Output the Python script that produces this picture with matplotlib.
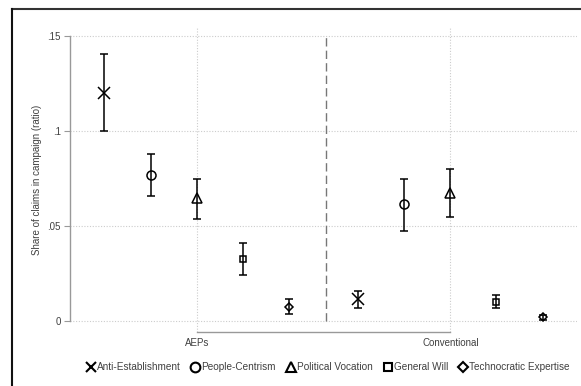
import matplotlib
matplotlib.use("Agg")
import matplotlib.pyplot as plt
from matplotlib.lines import Line2D
import numpy as np

plt.rcParams['font.family'] = ['Liberation Sans', 'DejaVu Sans']

groups = ["AEPs", "Conventional"]
series = ["Anti-Establishment", "People-Centrism", "Political Vocation", "General Will", "Technocratic Expertise"]
markers = ["x", "o", "^", "s", "D"]
msizes = [8.5, 6.5, 7, 5, 4]
leg_sizes = [7, 7, 7, 6, 5]

# estimates per series: [AEPs, Conventional]
est = {
    "Anti-Establishment":     [0.1198, 0.0114],
    "People-Centrism":        [0.0765, 0.0614],
    "Political Vocation":     [0.0646, 0.0675],
    "General Will":           [0.0326, 0.0102],
    "Technocratic Expertise": [0.0075, 0.0019],
}
lo = {
    "Anti-Establishment":     [0.0996, 0.0070],
    "People-Centrism":        [0.0658, 0.0475],
    "Political Vocation":     [0.0535, 0.0549],
    "General Will":           [0.0239, 0.0067],
    "Technocratic Expertise": [0.0037, 0.0006],
}
hi = {
    "Anti-Establishment":     [0.1404, 0.0160],
    "People-Centrism":        [0.0877, 0.0747],
    "Political Vocation":     [0.0747, 0.0798],
    "General Will":           [0.0412, 0.0137],
    "Technocratic Expertise": [0.0117, 0.0031],
}
yticks = [0, 0.05, 0.10, 0.15]
yticklabels = ["0", ".05", ".1", ".15"]

W, H = 581, 386
fig = plt.figure(figsize=(W / 100, H / 100), dpi=100)
ax = fig.add_axes([70 / W, 1 - 332 / H, (577 - 70) / W, (332 - 27) / H])

gpos = np.array([1.0, 2.0])
offsets = np.array([-2, -1, 0, 1, 2]) * 0.182
txtcol = "#404040"

for i, s in enumerate(series):
    x = gpos + offsets[i]
    y = np.array(est[s])
    yerr = np.vstack([y - np.array(lo[s]), np.array(hi[s]) - y])
    ax.errorbar(x, y, yerr=yerr, fmt=markers[i], ms=msizes[i], mfc="none",
                mec="black", mew=1.1, color="black", ecolor="black",
                elinewidth=1.1, capsize=2.6, capthick=1.1, clip_on=False, zorder=3)

ax.set_xlim(0.5, 2.5)
ax.set_ylim(-0.0058, 0.1545)
ax.vlines(1.51, 0, 0.15, color="#777777", lw=1.0, ls=(0, (6, 3)), zorder=1)

ax.set_yticks(yticks)
ax.set_yticklabels(yticklabels)
ax.set_xticks(gpos)
ax.set_xticklabels(groups)
ax.grid(True, color="#cccccc", ls=(0, (1, 1.5)), lw=0.8)
ax.set_axisbelow(True)

for sp in ["top", "right"]:
    ax.spines[sp].set_visible(False)
ax.spines["left"].set_bounds(0, 0.15)
ax.spines["bottom"].set_bounds(1, 2)
for sp in ["left", "bottom"]:
    ax.spines[sp].set_color("#999999")
    ax.spines[sp].set_linewidth(1.0)
ax.tick_params(axis="y", length=4.5, color="#999999", labelsize=7, labelcolor=txtcol, pad=2)
ax.tick_params(axis="x", length=0, labelsize=7, labelcolor=txtcol, pad=4)
ax.set_ylabel("Share of claims in campaign (ratio)", fontsize=7, color=txtcol, labelpad=4)

handles = [Line2D([], [], ls="none", marker=m, ms=ls_, mfc="none", mec="black", mew=1.5)
           for m, ls_ in zip(markers, leg_sizes)]
fig.legend(handles, series, loc="center", bbox_to_anchor=(328 / W, 1 - 367 / H), ncol=5,
           frameon=False, fontsize=7.2, handlelength=0.8, handletextpad=0.2,
           columnspacing=1.1, labelcolor=txtcol)

# figure frame lines (top and left)
fig.add_artist(Line2D([12 / W, 1], [1 - 9 / H, 1 - 9 / H], color="#333333", lw=1.5,
                      transform=fig.transFigure))
fig.add_artist(Line2D([12 / W, 12 / W], [0, 1 - 9 / H], color="#111111", lw=1.5,
                      transform=fig.transFigure))

fig.savefig("out.png", dpi=100)
